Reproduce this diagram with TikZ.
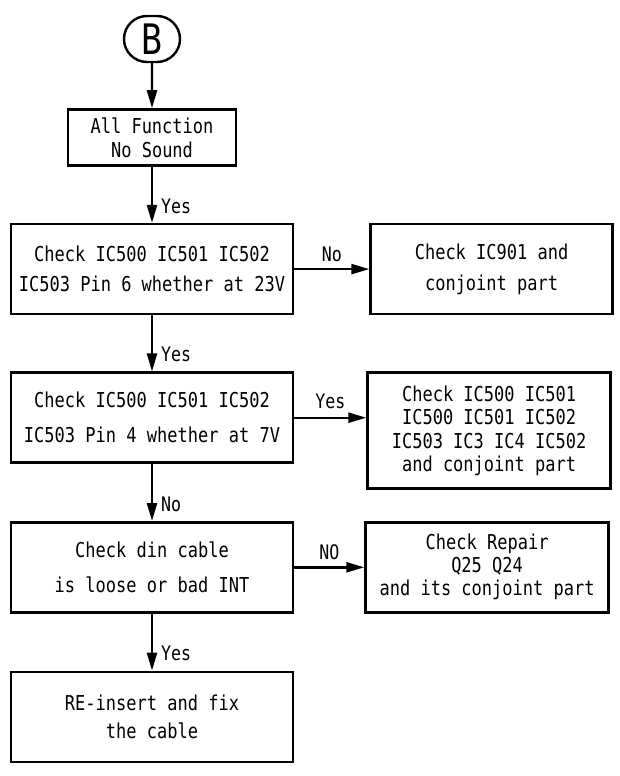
\documentclass[tikz,border=0pt]{standalone}
\usepackage{fontspec}
\newfontfamily\cadfont{DejaVu Sans Mono}[FakeStretch=0.83]
\usetikzlibrary{shapes.misc, arrows.meta, positioning}

\begin{document}
\begin{tikzpicture}[
    x=1pt, y=1pt,
    % Define standard styles for the chart
    startnode/.style={
        rounded rectangle,
        draw=black,
        line width=2.4pt,
        minimum width=56pt,
        minimum height=46pt,
        inner sep=0pt,
        font=\cadfont\fontsize{42}{42}\selectfont
    },
    checknode/.style={
        rectangle,
        draw=black,
        line width=2.6pt,
        minimum width=282pt,
        minimum height=90pt,
        inner sep=2pt,
        align=center,
        font=\cadfont\fontsize{20.5}{30}\selectfont
    },
    leading/.style={font=\cadfont\fontsize{20.5}{#1}\selectfont},
    answer/.style={font=\cadfont\fontsize{20}{20}\selectfont, inner sep=2pt},
    arrow/.style={
        -{Triangle[length=18pt, width=10pt]},
        line width=2.4pt,
        draw=black
    }
]
\useasboundingbox (0,0) rectangle (620,-776);

% --- Nodes ---

% Entry point
\node[startnode] (start) at (152,-39) {B};

% Main column
\node[checknode, minimum width=168pt, minimum height=56pt, leading=24, align=left, below=45pt of start] (nosound) {All Function\\\quad No Sound};
\node[checknode, leading=30, below=56pt of nosound] (pin6) {Check IC500 IC501 IC502\\IC503 Pin 6 whether at 23V};
\node[checknode, leading=35, below=56pt of pin6] (pin4) {Check IC500 IC501 IC502\\IC503 Pin 4 whether at 7V};
\node[checknode, leading=35, below=57pt of pin4] (din) {Check din cable\\is loose or bad INT};
\node[checknode, leading=28, below=57pt of din] (reinsert) {RE-insert and fix\\the cable};

% Side branches
\node[checknode, minimum width=242pt, leading=31, right=75pt of pin6] (ic901) {Check IC901 and\\conjoint part};
\node[checknode, minimum width=243pt, minimum height=116pt, leading=23.5, right=72pt of pin4.north east, anchor=north west] (icall) {Check IC500 IC501\\IC500 IC501 IC502\\IC503 IC3 IC4 IC502\\and conjoint part};
\node[checknode, minimum width=243pt, leading=23, right=70pt of din] (repair) {Check Repair\\Q25 Q24\\and its conjoint part};

% --- Connections ---
\draw[arrow] (start) -- (nosound);
\draw[arrow] (nosound) -- node[answer, pos=0.7, right=6pt] {Yes} (pin6);
\draw[arrow] (pin6) -- node[answer, above=4pt] {No} (ic901);
\draw[arrow] (pin6) -- node[answer, pos=0.7, right=6pt] {Yes} (pin4);
\draw[arrow] (pin4.east) -- node[answer, above=6pt] {Yes} (pin4.east -| icall.west);
\draw[arrow] (pin4) -- node[answer, pos=0.7, right=6pt] {No} (din);
\draw[arrow] (din.east) -- node[answer, above=4pt] {NO} (din.east -| repair.west);
\draw[arrow] (din) -- node[answer, pos=0.7, right=6pt] {Yes} (reinsert);

\end{tikzpicture}
\end{document}
